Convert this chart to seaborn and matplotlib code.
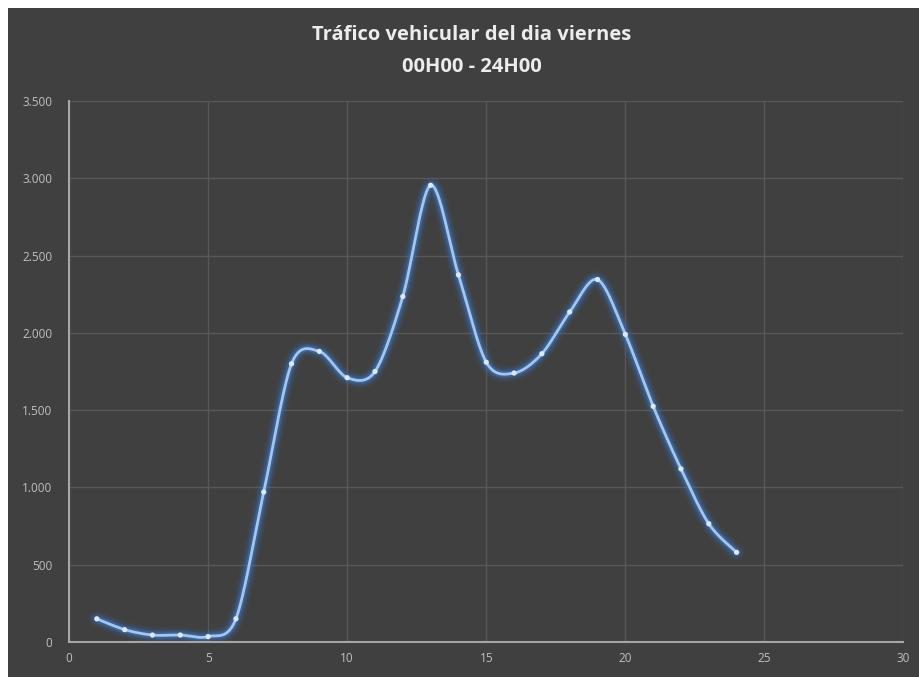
import numpy as np
import pandas as pd
import matplotlib
matplotlib.use("Agg")
import matplotlib.pyplot as plt
import seaborn as sns
from matplotlib.patches import Rectangle
from matplotlib.ticker import FuncFormatter

# Hourly vehicle counts for Friday
hours = list(range(1, 25))
vehicles = [150, 80, 45, 45, 35, 150, 970, 1800, 1880, 1710, 1750, 2235,
            2955, 2375, 1810, 1740, 1865, 2135, 2345, 1990, 1525, 1120, 765, 580]

title_lines = ["Tráfico vehicular del dia viernes", "00H00 - 24H00"]
x_ticks = [0, 5, 10, 15, 20, 25, 30]
y_ticks = [0, 500, 1000, 1500, 2000, 2500, 3000, 3500]

BG = "#404040"
GRID = "#585858"
SPINE = "#a6a6a6"
TEXT = "#bfbfbf"


def smooth_curve(x, y, n=40, k=6.5):
    """Cubic Bezier through the points with Catmull-Rom style tangents."""
    x = np.asarray(x, float)
    y = np.asarray(y, float)
    px = np.concatenate([[x[0]], x, [x[-1]]])
    py = np.concatenate([[y[0]], y, [y[-1]]])
    xs, ys = [], []
    t = np.linspace(0, 1, n, endpoint=False)
    for i in range(1, len(px) - 2):
        p0 = np.array([px[i], py[i]])
        p3 = np.array([px[i + 1], py[i + 1]])
        c1 = p0 + (np.array([px[i + 1], py[i + 1]]) - np.array([px[i - 1], py[i - 1]])) / k
        c2 = p3 - (np.array([px[i + 2], py[i + 2]]) - np.array([px[i], py[i]])) / k
        pts = ((1 - t)[:, None] ** 3 * p0 + 3 * ((1 - t) ** 2 * t)[:, None] * c1
               + 3 * ((1 - t) * t ** 2)[:, None] * c2 + (t ** 3)[:, None] * p3)
        xs.append(pts[:, 0])
        ys.append(pts[:, 1])
    xs.append([x[-1]])
    ys.append([y[-1]])
    return np.concatenate(xs), np.concatenate(ys)


sx, sy = smooth_curve(hours, vehicles)
curve = pd.DataFrame({"hora": sx, "vehiculos": sy})
points = pd.DataFrame({"hora": hours, "vehiculos": vehicles})

sns.set_theme(style="dark")
plt.rcParams["font.family"] = ["Open Sans", "DejaVu Sans"]

fig = plt.figure(figsize=(9.2, 6.77), dpi=100)
fig.patch.set_facecolor("white")
fig.add_artist(Rectangle((8 / 920, 0), 1 - 8 / 920, 1 - 8 / 677,
                         transform=fig.transFigure, facecolor=BG,
                         edgecolor="none", zorder=0))

ax = fig.add_axes([69 / 920, 1 - 642 / 677, (903.5 - 69) / 920, (642 - 101) / 677])
ax.set_facecolor(BG)

# Soft glow behind the line
for lw, a in [(12, 0.07), (9, 0.12), (6.5, 0.20), (4.5, 0.40)]:
    sns.lineplot(data=curve, x="hora", y="vehiculos", ax=ax, color="#3b7ad0",
                 linewidth=lw, alpha=a, sort=False, estimator=None)
sns.lineplot(data=curve, x="hora", y="vehiculos", ax=ax, color="#a4c6ec",
             linewidth=2.0, sort=False, estimator=None)
sns.scatterplot(data=points, x="hora", y="vehiculos", ax=ax, color="#dce9f7",
                s=14, edgecolor="none", zorder=5)

ax.set_xlim(0, 30)
ax.set_ylim(0, 3500)
ax.set_xticks(x_ticks)
ax.set_yticks(y_ticks)
ax.yaxis.set_major_formatter(FuncFormatter(lambda v, p: f"{int(v):,}".replace(",", ".")))
ax.grid(True, color=GRID, linewidth=1.0)
ax.set_axisbelow(True)
ax.set_xlabel("")
ax.set_ylabel("")
ax.tick_params(axis="both", length=0, labelsize=8.5, labelcolor=TEXT)
ax.tick_params(axis="y", pad=12)
ax.tick_params(axis="x", pad=7)
for side in ["top", "right"]:
    ax.spines[side].set_visible(False)
for side in ["left", "bottom"]:
    ax.spines[side].set_visible(True)
    ax.spines[side].set_color(SPINE)
    ax.spines[side].set_linewidth(1.5)

fig.text(472 / 920, 1 - 35 / 677, title_lines[0], ha="center", va="center",
         fontsize=14.5, fontweight="bold", color="#ececec")
fig.text(472 / 920, 1 - 67 / 677, title_lines[1], ha="center", va="center",
         fontsize=14.5, fontweight="bold", color="#ececec")

fig.savefig("out.png", dpi=100, facecolor=fig.get_facecolor())
